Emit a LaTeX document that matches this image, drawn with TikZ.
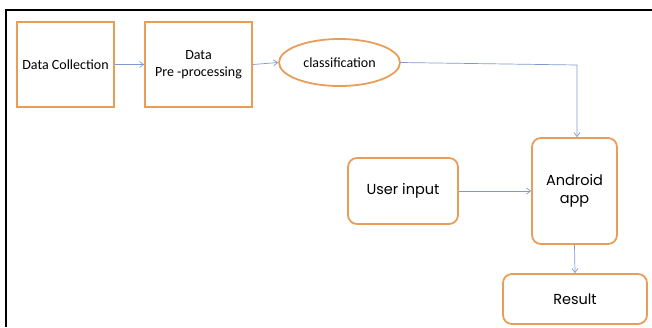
\documentclass[tikz,border=0pt]{standalone}
\usepackage{fontspec}
\setmainfont{Carlito}
\newfontfamily\geofont{Poppins}
\usetikzlibrary{shapes.geometric,arrows.meta}
\definecolor{boxorange}{RGB}{232,158,88}
\definecolor{arrowblue}{RGB}{125,155,205}
\tikzset{
  sqbox/.style={draw=boxorange, line width=1.8pt, align=center, font=\fontsize{14}{17}\selectfont, inner sep=0pt},
  rdbox/.style={draw=boxorange, line width=1.8pt, rounded corners=9pt, align=center, font=\geofont\fontsize{14.5}{18}\selectfont, inner sep=0pt},
  ovbox/.style={draw=boxorange, line width=1.8pt, ellipse, align=center, font=\fontsize{14}{17}\selectfont, inner sep=0pt},
  conn/.style={draw=arrowblue, line width=0.7pt, -{Straight Barb[length=4pt,width=6pt]}}
}
\begin{document}
\begin{tikzpicture}[x=1pt,y=-1pt]
\useasboundingbox (0,0) rectangle (652,327);
\draw[line width=2pt] (5.5,327) -- (5.5,9.5) -- (652,9.5);
\node[sqbox, minimum width=97pt, minimum height=85pt] (dc) at (65.5,64.5) {Data Collection};
\node[sqbox, minimum width=107pt, minimum height=85pt] (dp) at (198.5,64.5) {Data\\Pre -processing};
\node[ovbox, minimum width=121pt, minimum height=47pt] (cl) at (339.5,62.5) {classification};
\node[rdbox, minimum width=85pt, minimum height=106pt] (an) at (574.5,191) {Android\\app};
\node[rdbox, minimum width=110pt, minimum height=66pt] (ui) at (403,191) {User input};
\node[rdbox, minimum width=144pt, minimum height=50pt] (rs) at (575,299) {Result};
\coordinate (bend) at (577,65);
\draw[conn] (dc.east) -- (dp.west);
\draw[conn] (dp.east) -- (cl.west);
\draw[conn] (cl.east) -- (bend) -- (an.north -| bend);
\draw[conn] (ui.east) -- (an.west);
\draw[conn] (an.south) -- (rs.north);
\end{tikzpicture}
\end{document}
